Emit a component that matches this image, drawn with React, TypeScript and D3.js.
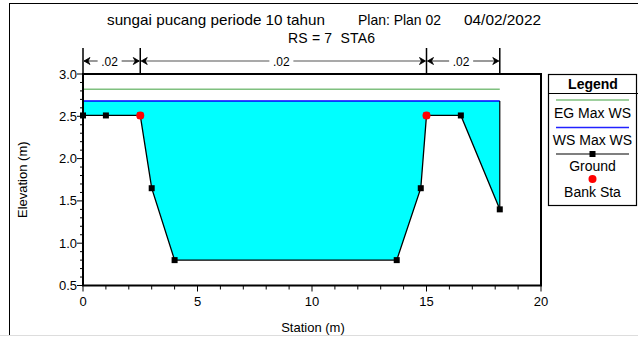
import React from "react";
import * as d3 from "d3";

// Cross-section geometry (station, elevation)
const stations = [0, 1, 2.5, 3, 4, 13.7, 14.75, 15, 16.5, 18.2];
const elevations = [2.51, 2.51, 2.51, 1.65, 0.8, 0.8, 1.65, 2.51, 2.51, 1.4];
// Bank stations
const bankStations = [2.5, 15];
const bankElevations = [2.51, 2.51];
// Water surface profiles
const wsMaxWS = 2.68;
const egMaxWS = 2.82;
// Manning's n breaks and values
const nBreaks = [0, 2.5, 15, 18.2];
const nValues = [".02", ".02", ".02"];
// Axis ticks
const xTicks = [0, 5, 10, 15, 20];
const yTicks = [0.5, 1.0, 1.5, 2.0, 2.5, 3.0];

const W = 638;
const H = 337;
const M = { left: 83, right: 541, top: 74, bottom: 285.5 };
const FONT = "'Liberation Sans', Arial, sans-serif";

export default function App() {
  const x = d3.scaleLinear().domain([0, 20]).range([M.left, M.right]);
  const y = d3.scaleLinear().domain([0.5, 3.0]).range([M.bottom, M.top]);

  const ground = stations.map((s, i) => [s, elevations[i]] as [number, number]);
  const xMin = d3.min(stations) as number;
  const xMax = d3.max(stations) as number;

  const waterArea = d3
    .area<[number, number]>()
    .x((d) => x(d[0]))
    .y0((d) => y(Math.min(d[1], wsMaxWS)))
    .y1(() => y(wsMaxWS));
  const groundLine = d3
    .line<[number, number]>()
    .x((d) => x(d[0]))
    .y((d) => y(d[1]));

  const xMinor = d3.range(0, 21, 1);
  const yMinor = d3.range(5, 31, 1).map((v) => v / 10);

  // Manning's n dimension arrows
  const nY = 61;
  const arrows = nValues.map((label, i) => {
    const a = x(nBreaks[i]);
    const b = x(nBreaks[i + 1]);
    const c = (a + b) / 2 - 2;
    const half = 12;
    return (
      <g key={i}>
        <line x1={a + 1} x2={c - half} y1={nY} y2={nY} stroke="#555" strokeWidth={1.2} />
        <line x1={c + half} x2={b - 1} y1={nY} y2={nY} stroke="#555" strokeWidth={1.2} />
        <path d={`M${a + 7},${nY - 3.5} L${a + 1},${nY} L${a + 7},${nY + 3.5} L${a + 5},${nY} Z`} fill="#000" stroke="#000" strokeWidth={0.8} />
        <path d={`M${b - 7},${nY - 3.5} L${b - 1},${nY} L${b - 7},${nY + 3.5} L${b - 5},${nY} Z`} fill="#000" stroke="#000" strokeWidth={0.8} />
        <text x={c} y={nY + 4.5} textAnchor="middle" fontSize={12}>
          {label}
        </text>
      </g>
    );
  });

  const lx0 = 556;
  const lx1 = 629;
  const lc = (lx0 + lx1) / 2;

  return (
    <svg
      width={W}
      height={H}
      style={{ position: "absolute", left: 0, top: 0, background: "#fff" }}
      fontFamily={FONT}
    >
      {/* outer frame */}
      <line x1={9.5} x2={9.5} y1={3} y2={335} stroke="#000" strokeWidth={1} />
      <line x1={9} x2={W} y1={3.5} y2={3.5} stroke="#000" strokeWidth={1} />
      <line x1={0} x2={W} y1={335.5} y2={335.5} stroke="#ddd" strokeWidth={1} />

      {/* titles */}
      <text x={107} y={25} fontSize={15} textLength={218} lengthAdjust="spacingAndGlyphs">sungai pucang periode 10 tahun</text>
      <text x={358} y={25} fontSize={15} textLength={83} lengthAdjust="spacingAndGlyphs">Plan: Plan 02</text>
      <text x={464} y={25} fontSize={15} textLength={77} lengthAdjust="spacingAndGlyphs">04/02/2022</text>
      <text x={288} y={43} fontSize={14} textLength={87} lengthAdjust="spacing" style={{ whiteSpace: "pre" }}>
        {"RS = 7  STA6"}
      </text>

      {/* Manning's n breaks */}
      {nBreaks.map((b, i) => (
        <line key={i} x1={x(b)} x2={x(b)} y1={48} y2={M.top} stroke="#000" strokeWidth={1.5} />
      ))}
      {arrows}

      {/* water */}
      <path d={waterArea(ground) as string} fill="#00ffff" stroke="none" />
      <line x1={x(xMin)} x2={x(xMax)} y1={y(egMaxWS)} y2={y(egMaxWS)} stroke="#7fc07f" strokeWidth={1.3} />
      <line x1={x(xMin)} x2={x(xMax)} y1={y(wsMaxWS)} y2={y(wsMaxWS)} stroke="#0000ff" strokeWidth={1.5} />
      <line x1={x(xMax)} x2={x(xMax)} y1={y(wsMaxWS)} y2={y(elevations[elevations.length - 1])} stroke="#000" strokeWidth={1.2} />

      {/* ground */}
      <path d={groundLine(ground) as string} fill="none" stroke="#000" strokeWidth={1.3} />
      {ground.map((d, i) => (
        <rect key={i} x={x(d[0]) - 3} y={y(d[1]) - 3} width={6} height={6} fill="#000" />
      ))}
      {bankStations.map((s, i) => (
        <circle key={i} cx={x(s)} cy={y(bankElevations[i])} r={4} fill="#ff0000" />
      ))}

      {/* plot frame */}
      <rect x={M.left} y={M.top} width={M.right - M.left} height={M.bottom - M.top} fill="none" stroke="#000" strokeWidth={2} />

      {/* x axis */}
      {xMinor.map((t) => (
        <line key={t} x1={x(t)} x2={x(t)} y1={M.bottom} y2={M.bottom + (t % 5 === 0 ? 6 : 4)} stroke="#000" strokeWidth={1} />
      ))}
      {xTicks.map((t) => (
        <text key={t} x={x(t)} y={306} textAnchor="middle" fontSize={13}>
          {t}
        </text>
      ))}
      <text x={313} y={332} textAnchor="middle" fontSize={13}>Station (m)</text>

      {/* y axis */}
      {yMinor.map((t) => (
        <line
          key={t}
          x1={M.left}
          x2={M.left - (Math.abs(t * 2 - Math.round(t * 2)) < 1e-6 ? 6 : 3)}
          y1={y(t)}
          y2={y(t)}
          stroke="#000"
          strokeWidth={1}
        />
      ))}
      {yTicks.map((t) => (
        <text key={t} x={77} y={y(t) + 4.5} textAnchor="end" fontSize={13}>
          {d3.format(".1f")(t)}
        </text>
      ))}
      <text transform={`translate(27,${(M.top + M.bottom) / 2}) rotate(-90)`} textAnchor="middle" fontSize={13}>
        Elevation (m)
      </text>

      {/* legend */}
      <rect x={548.5} y={74.5} width={88} height={131} fill="#fff" stroke="#000" strokeWidth={1.2} />
      <line x1={548.5} x2={638} y1={93.5} y2={93.5} stroke="#000" strokeWidth={1.2} />
      <text x={593} y={89} textAnchor="middle" fontSize={14} fontWeight="bold">Legend</text>
      <line x1={lx0} x2={lx1} y1={100} y2={100} stroke="#7fc07f" strokeWidth={1.3} />
      <text x={lc} y={118} textAnchor="middle" fontSize={14}>EG Max WS</text>
      <line x1={lx0} x2={lx1} y1={127.5} y2={127.5} stroke="#2222ff" strokeWidth={1.5} />
      <text x={lc} y={145} textAnchor="middle" fontSize={14}>WS Max WS</text>
      <line x1={lx0} x2={lx1} y1={154} y2={154} stroke="#000" strokeWidth={1.2} />
      <rect x={lc - 3} y={151} width={6} height={6} fill="#000" />
      <text x={lc} y={171} textAnchor="middle" fontSize={14}>Ground</text>
      <circle cx={lc} cy={179} r={4} fill="#ff0000" />
      <text x={lc} y={197} textAnchor="middle" fontSize={14}>Bank Sta</text>
    </svg>
  );
}
